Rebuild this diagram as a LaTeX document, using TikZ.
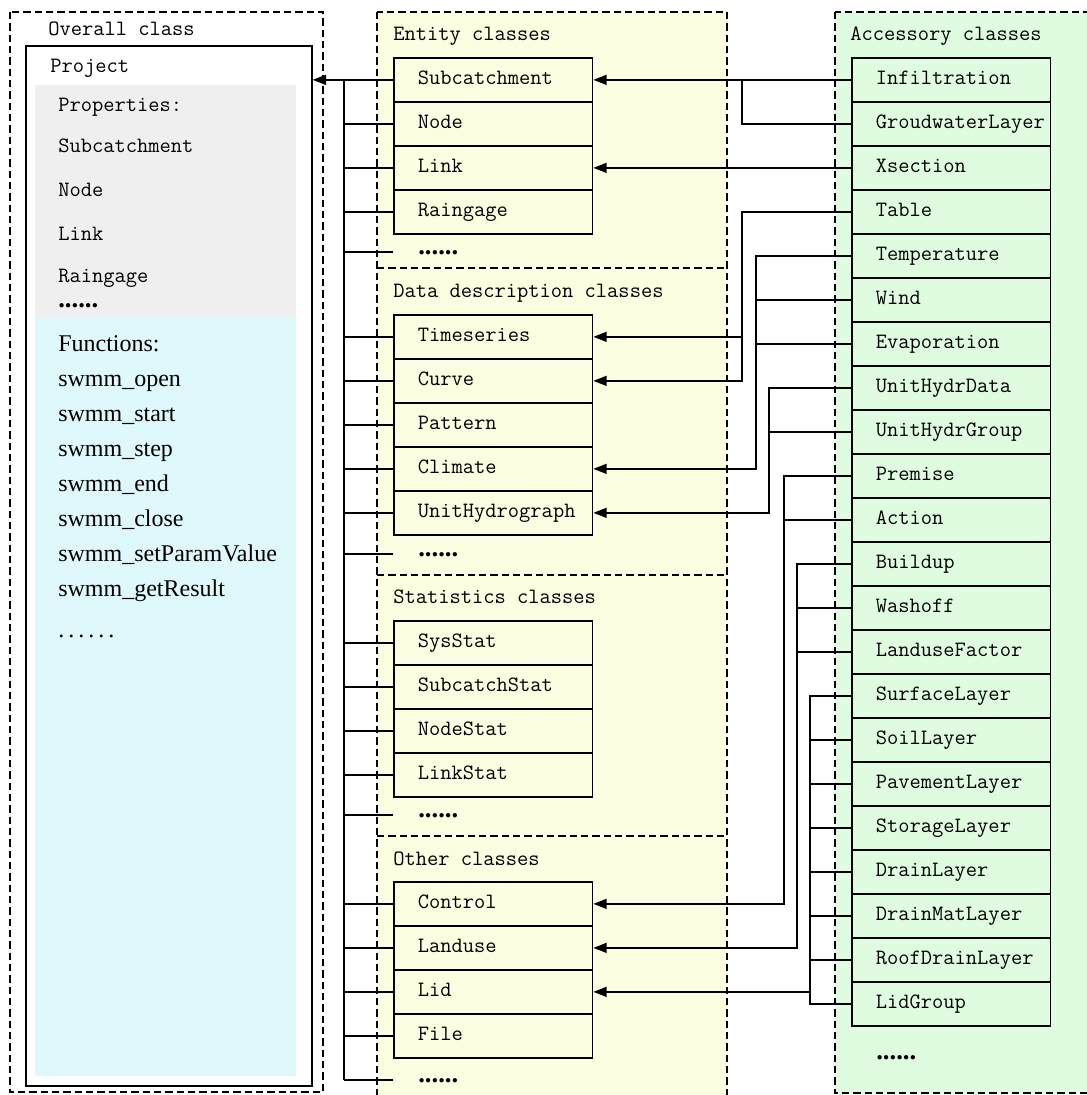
\documentclass[tikz,border=0pt]{standalone}
\usepackage{fontspec}
\usetikzlibrary{arrows.meta}
\newfontfamily\timesfont{Liberation Serif}
\newcommand{\clsfont}{\ttfamily\fontsize{16.4pt}{19pt}\selectfont}
\newcommand{\funcfont}{\timesfont\fontsize{18pt}{20pt}\selectfont}
\newcommand{\dotfont}{\timesfont\bfseries\fontsize{20pt}{22pt}\selectfont}
\hfuzz=40pt

\definecolor{entityyellow}{RGB}{253,253,226}
\definecolor{accgreen}{RGB}{224,252,224}
\definecolor{propgrey}{RGB}{239,239,239}
\definecolor{funcblue}{RGB}{223,248,252}

\tikzset{
  groupframe/.style={dash pattern=on 5.5pt off 3pt, line width=1.1pt},
  rowbox/.style={draw, line width=1.3pt, anchor=north west, minimum height=33pt,
    text width=113pt, inner xsep=18pt, inner ysep=0pt, align=left, font=\clsfont,
    text height=10.5pt, text depth=3.2pt},
  entbox/.style={rowbox, fill=entityyellow},
  accbox/.style={rowbox, fill=accgreen},
  wire/.style={line width=1.2pt},
  mono/.style={anchor=base west, inner sep=0pt, font=\clsfont},
  functxt/.style={anchor=base west, inner sep=0pt, font=\funcfont},
  dotrow/.style={anchor=base west, inner sep=0pt, font=\dotfont}
}

\begin{document}
\begin{tikzpicture}[x=0.75pt, y=-0.75pt, >={Triangle[length=10pt,width=7.5pt]}]
    \useasboundingbox (0,0) rectangle (1086,1095);

    % Group frames
    \draw[groupframe, fill=white] (10,12) rectangle (323,1092);
    \draw[groupframe, fill=entityyellow] (377,12) rectangle (727,1110);
    \draw[groupframe] (377,268) -- (727,268);
    \draw[groupframe] (377,575) -- (727,575);
    \draw[groupframe] (377,836) -- (727,836);
    \draw[groupframe, fill=accgreen] (835,12) rectangle (1100,1093);

    % Overall class
    \node[mono] (toverall) at (48,36) {Overall class};
    \node[draw, line width=1.3pt, anchor=north west, inner sep=0pt,
          minimum width=214.5pt, minimum height=780pt] (project) at (25,45) {};
    \fill[propgrey] (35,85) rectangle (296,318);
    \fill[funcblue] (35,318) rectangle (296,1076);
    \node[mono] (tproject) at (50,73) {Project};
    \node[mono] (pprop) at (58,112) {Properties:};
    \node[mono] (psubc) at (58,152) {Subcatchment};
    \node[mono] (pnode) at (58,196) {Node};
    \node[mono] (plink) at (58,240) {Link};
    \node[mono] (prain) at (58,282) {Raingage};
    \node[dotrow] (pdots) at (58,307) {......};
    \node[functxt] (ffunc) at (58,351) {Functions:};
    \node[functxt] (fopen) at (58,386) {swmm\_open};
    \node[functxt] (fstart) at (58,421) {swmm\_start};
    \node[functxt] (fstep) at (58,456) {swmm\_step};
    \node[functxt] (fend) at (58,491) {swmm\_end};
    \node[functxt] (fclose) at (58,526) {swmm\_close};
    \node[functxt] (fparam) at (58,561) {swmm\_setParamValue};
    \node[functxt] (fresult) at (58,596) {swmm\_getResult};
    \node[functxt] (fdots) at (58,637) {.\,.\,.\,.\,.\,.};

    % Entity classes
    \node[mono] (tentity) at (393,41) {Entity classes};
    \node[entbox] (esub) at (393,57) {Subcatchment};
    \node[entbox] (enode) at (393,101) {Node};
    \node[entbox] (elink) at (393,145) {Link};
    \node[entbox] (erain) at (393,189) {Raingage};
    \node[dotrow] (edotstxt) at (418,254) {......};
    \coordinate (edots) at (393,252);

    % Data description classes
    \node[mono] (tdata) at (393,297) {Data description classes};
    \node[entbox] (dts) at (393,314) {Timeseries};
    \node[entbox] (dcurve) at (393,358) {Curve};
    \node[entbox] (dpat) at (393,402) {Pattern};
    \node[entbox] (dclim) at (393,446) {Climate};
    \node[entbox] (duh) at (393,490) {UnitHydrograph};
    \node[dotrow] (ddotstxt) at (418,556) {......};
    \coordinate (ddots) at (393,554);

    % Statistics classes
    \node[mono] (tstat) at (393,603) {Statistics classes};
    \node[entbox] (ssys) at (393,620) {SysStat};
    \node[entbox] (ssubc) at (393,664) {SubcatchStat};
    \node[entbox] (snode) at (393,708) {NodeStat};
    \node[entbox] (slink) at (393,752) {LinkStat};
    \node[dotrow] (sdotstxt) at (418,817) {......};
    \coordinate (sdots) at (393,815);

    % Other classes
    \node[mono] (tother) at (393,865) {Other classes};
    \node[entbox] (octrl) at (393,881) {Control};
    \node[entbox] (oland) at (393,925) {Landuse};
    \node[entbox] (olid) at (393,969) {Lid};
    \node[entbox] (ofile) at (393,1013) {File};
    \node[dotrow] (odotstxt) at (418,1082) {......};
    \coordinate (odots) at (393,1080);

    % Accessory classes
    \node[mono] (tacc) at (850,41) {Accessory classes};
    \node[accbox] (aInf) at (851,57) {Infiltration};
    \node[accbox] (aGw) at (851,101) {GroudwaterLayer};
    \node[accbox] (aXs) at (851,145) {Xsection};
    \node[accbox] (aTab) at (851,189) {Table};
    \node[accbox] (aTemp) at (851,233) {Temperature};
    \node[accbox] (aWind) at (851,277) {Wind};
    \node[accbox] (aEvap) at (851,321) {Evaporation};
    \node[accbox] (aUhd) at (851,365) {UnitHydrData};
    \node[accbox] (aUhg) at (851,409) {UnitHydrGroup};
    \node[accbox] (aPrem) at (851,453) {Premise};
    \node[accbox] (aAct) at (851,497) {Action};
    \node[accbox] (aBuild) at (851,541) {Buildup};
    \node[accbox] (aWash) at (851,585) {Washoff};
    \node[accbox] (aLuf) at (851,629) {LanduseFactor};
    \node[accbox] (aSurf) at (851,673) {SurfaceLayer};
    \node[accbox] (aSoil) at (851,717) {SoilLayer};
    \node[accbox] (aPave) at (851,761) {PavementLayer};
    \node[accbox] (aStor) at (851,805) {StorageLayer};
    \node[accbox] (aDrain) at (851,849) {DrainLayer};
    \node[accbox] (aMat) at (851,893) {DrainMatLayer};
    \node[accbox] (aRoof) at (851,937) {RoofDrainLayer};
    \node[accbox] (aLidg) at (851,981) {LidGroup};
    \node[dotrow] (adotstxt) at (876,1059) {......};

    % Bus towards Project
    \coordinate (bus) at (344,0);
    \draw[wire] (bus |- esub.west) -- (bus |- odots);
    \draw[wire, ->] (esub.west) -- (esub.west -| project.east);
    \draw[wire] (enode.west) -- (enode.west -| bus)
                (elink.west) -- (elink.west -| bus)
                (erain.west) -- (erain.west -| bus)
                (edots) -- (edots -| bus);
    \draw[wire] (dts.west) -- (dts.west -| bus)
                (dcurve.west) -- (dcurve.west -| bus)
                (dpat.west) -- (dpat.west -| bus)
                (dclim.west) -- (dclim.west -| bus)
                (duh.west) -- (duh.west -| bus)
                (ddots) -- (ddots -| bus);
    \draw[wire] (ssys.west) -- (ssys.west -| bus)
                (ssubc.west) -- (ssubc.west -| bus)
                (snode.west) -- (snode.west -| bus)
                (slink.west) -- (slink.west -| bus)
                (sdots) -- (sdots -| bus);
    \draw[wire] (octrl.west) -- (octrl.west -| bus)
                (oland.west) -- (oland.west -| bus)
                (olid.west) -- (olid.west -| bus)
                (ofile.west) -- (ofile.west -| bus)
                (odots) -- (odots -| bus);

    % Accessory links
    \coordinate (cA) at (742,0);
    \coordinate (cB) at (756,0);
    \coordinate (cC) at (769,0);
    \coordinate (cD) at (784,0);
    \coordinate (cE) at (797,0);
    \coordinate (cF) at (810,0);
    \draw[wire, ->] (aInf.west) -- (esub.east);
    \draw[wire] (aGw.west) -| (cA |- aInf.west);
    \draw[wire, ->] (aXs.west) -- (elink.east);
    \draw[wire, ->] (aTab.west) -| (cA |- dts.east) -- (dts.east);
    \draw[wire, ->] (cA |- dts.east) |- (dcurve.east);
    \draw[wire, ->] (aTemp.west) -| (cB |- dclim.east) -- (dclim.east);
    \draw[wire] (aWind.west) -- (aWind.west -| cB)
                (aEvap.west) -- (aEvap.west -| cB);
    \draw[wire, ->] (aUhd.west) -| (cC |- duh.east) -- (duh.east);
    \draw[wire] (aUhg.west) -- (aUhg.west -| cC);
    \draw[wire, ->] (aPrem.west) -| (cD |- octrl.east) -- (octrl.east);
    \draw[wire] (aAct.west) -- (aAct.west -| cD);
    \draw[wire, ->] (aBuild.west) -| (cE |- oland.east) -- (oland.east);
    \draw[wire] (aWash.west) -- (aWash.west -| cE)
                (aLuf.west) -- (aLuf.west -| cE);
    \draw[wire] (aSurf.west) -| (cF |- aLidg.west) -- (aLidg.west);
    \draw[wire] (aSoil.west) -- (aSoil.west -| cF)
                (aPave.west) -- (aPave.west -| cF)
                (aStor.west) -- (aStor.west -| cF)
                (aDrain.west) -- (aDrain.west -| cF)
                (aMat.west) -- (aMat.west -| cF)
                (aRoof.west) -- (aRoof.west -| cF);
    \draw[wire, ->] (cF |- olid.east) -- (olid.east);
\end{tikzpicture}
\end{document}
